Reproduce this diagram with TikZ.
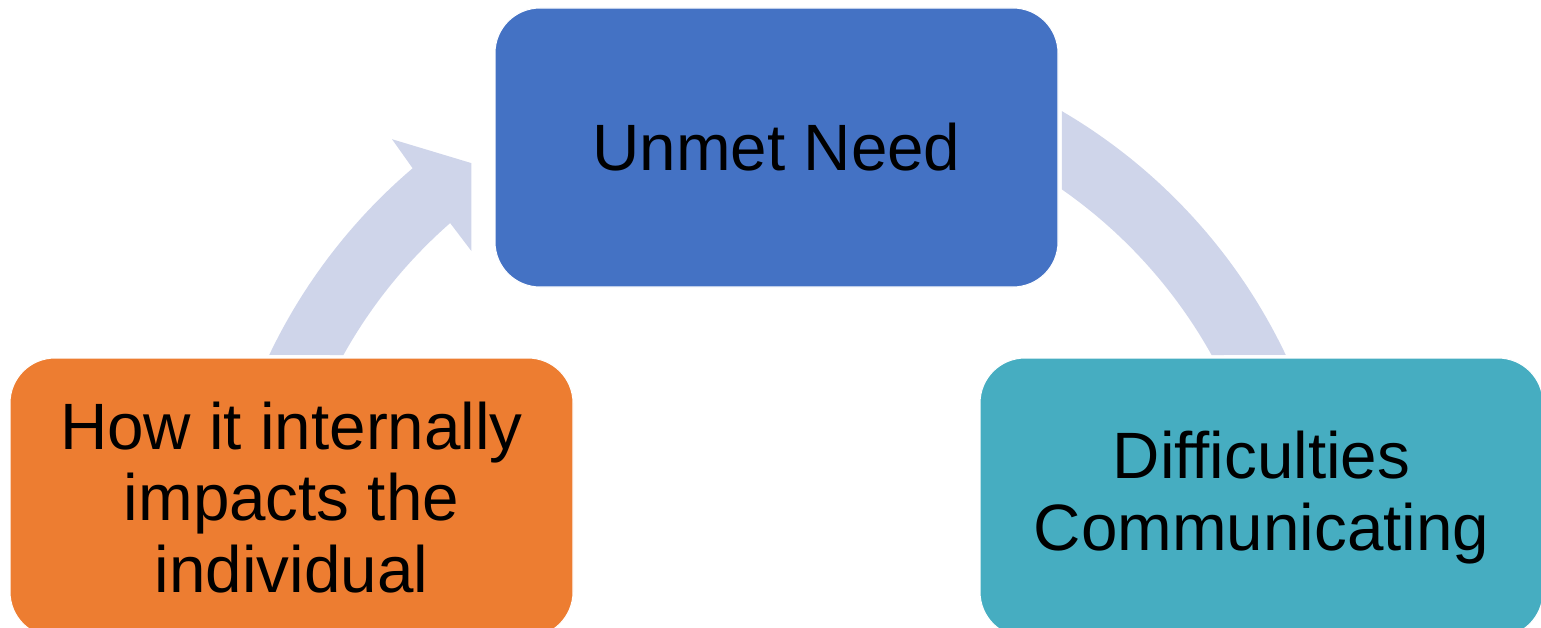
\documentclass[tikz,border=0pt]{standalone}
\usepackage{fontspec}
\setmainfont{Liberation Sans}
\usetikzlibrary{positioning}
\definecolor{needblue}{HTML}{4472C4}
\definecolor{impactorange}{HTML}{ED7D31}
\definecolor{commteal}{HTML}{46ADC1}
\definecolor{cyclearc}{HTML}{CFD5EA}

\begin{document}
\begin{tikzpicture}[cyclebox/.style={rectangle,rounded corners=0.9cm,draw=white,line width=0.6pt,minimum width=11.26cm,minimum height=5.58cm,inner sep=0pt,align=center,font=\fontsize{37.3}{40.6}\selectfont}]
	\useasboundingbox (0,0) rectangle (30.82,-12.56);
	\coordinate (hub) at (15.55,-11.94);

	% arcs of the cycle
	\fill[cyclearc] ([shift={(154.54:11.26)}]hub) arc[start angle=154.54,end angle=130.4,radius=11.26]
		-- ([shift={(130.1:11.97)}]hub) -- ([shift={(125.2:10.62)}]hub) -- ([shift={(131.5:9.24)}]hub)
		-- ([shift={(131.2:9.94)}]hub) arc[start angle=131.2,end angle=150.86,radius=9.94] -- cycle;
	\fill[cyclearc] ([shift={(59.65:11.26)}]hub) arc[start angle=59.65,end angle=25.46,radius=11.26]
		-- ([shift={(29.14:9.94)}]hub) arc[start angle=29.14,end angle=55.08,radius=9.94] -- cycle;

	\node[cyclebox,fill=needblue] (need) at (15.53,-2.95) {Unmet Need};
	\node[cyclebox,fill=impactorange] (impact) at (5.83,-9.95) {How it internally\\impacts the\\individual};
	\node[cyclebox,fill=commteal] (comm) at (25.23,-9.95) {Difficulties\\Communicating};
\end{tikzpicture}
\end{document}
